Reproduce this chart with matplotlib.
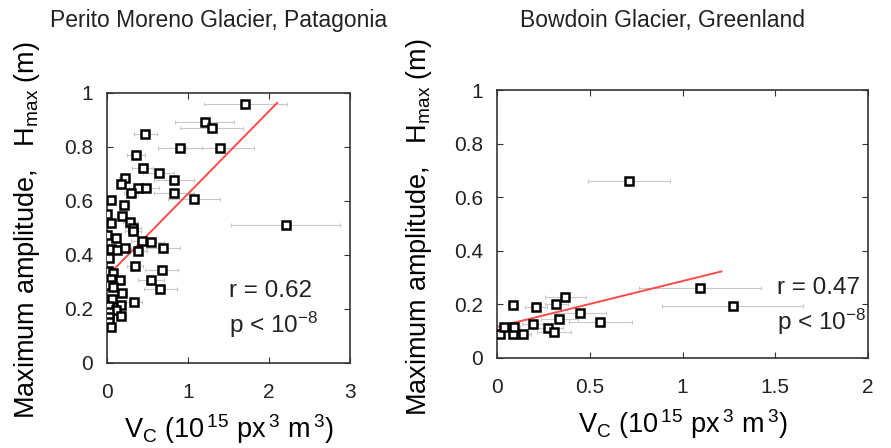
import numpy as np
import matplotlib
matplotlib.use('Agg')
import matplotlib.pyplot as plt

plt.rcParams['font.family'] = ['Liberation Sans', 'DejaVu Sans']
plt.rcParams['mathtext.fontset'] = 'custom'
plt.rcParams['mathtext.rm'] = 'Liberation Sans'
plt.rcParams['mathtext.default'] = 'regular'

# Perito Moreno (x, y, horizontal error)
pm_x = [1.705, 1.205, 1.290, 0.475, 0.897, 1.400, 0.363, 0.444, 0.641, 0.218,
        0.830, 0.174, 0.378, 0.487, 0.297, 0.830, 1.070, 0.054, 0.215, 0.005,
        0.190, 0.054, 0.290, 0.320, 0.325, 2.205, 0.005, 0.110, 0.433, 0.545,
        0.690, 0.050, 0.123, 0.222, 0.380, 0.025, 0.342, 0.675, 0.010, 0.080,
        0.545, 0.660, 0.050, 0.160, 0.020, 0.080, 0.190, 0.060, 0.334, 0.168,
        0.020, 0.110, 0.020, 0.020, 0.168, 0.025, 0.052]
pm_y = [0.960, 0.890, 0.869, 0.847, 0.795, 0.794, 0.769, 0.720, 0.702, 0.686,
        0.678, 0.664, 0.646, 0.646, 0.628, 0.628, 0.606, 0.603, 0.584, 0.550,
        0.544, 0.517, 0.523, 0.500, 0.490, 0.511, 0.475, 0.461, 0.452, 0.448,
        0.425, 0.420, 0.419, 0.427, 0.415, 0.387, 0.358, 0.344, 0.340, 0.332,
        0.305, 0.275, 0.309, 0.305, 0.288, 0.282, 0.259, 0.238, 0.224, 0.214,
        0.210, 0.197, 0.188, 0.170, 0.172, 0.150, 0.132]
pm_err = [0.51, 0.36, 0.39, 0.14, 0.27, 0.42, 0.11, 0.13, 0.19, 0.07,
          0.25, 0.05, 0.11, 0.15, 0.09, 0.25, 0.32, 0.02, 0.06, 0.01,
          0.06, 0.02, 0.09, 0.10, 0.10, 0.67, 0.01, 0.03, 0.13, 0.16,
          0.21, 0.02, 0.04, 0.07, 0.11, 0.01, 0.10, 0.20, 0.01, 0.02,
          0.16, 0.20, 0.02, 0.05, 0.01, 0.02, 0.06, 0.02, 0.10, 0.05,
          0.01, 0.03, 0.01, 0.01, 0.05, 0.01, 0.02]
pm_fit = (0.306, 0.320)   # slope, intercept
pm_fit_range = (0.01, 2.10)

# Bowdoin
bw_x = [0.712, 1.093, 1.272, 0.083, 0.208, 0.320, 0.368, 0.446, 0.557, 0.334,
        0.194, 0.275, 0.306, 0.014, 0.086, 0.140, 0.036, 0.092]
bw_y = [0.659, 0.260, 0.193, 0.199, 0.190, 0.200, 0.227, 0.168, 0.133, 0.147,
        0.125, 0.110, 0.098, 0.088, 0.089, 0.091, 0.116, 0.114]
bw_err = [0.22, 0.33, 0.38, 0.02, 0.06, 0.06, 0.11, 0.14, 0.17, 0.10,
          0.06, 0.08, 0.09, 0.01, 0.03, 0.04, 0.01, 0.03]
bw_fit = (0.171, 0.116)
bw_fit_range = (0.01, 1.21)

fig = plt.figure(figsize=(8.91, 4.48), dpi=100)
ax1 = fig.add_axes([0.120, 0.190, 0.273, 0.603])
ax2 = fig.add_axes([0.558, 0.201, 0.416, 0.598])

def panel(ax, x, y, err, fit, fr, xlim, xticks, xticklabels, rtxt, txtpos, ylab_x):
    ax.errorbar(x, y, xerr=err, fmt='none', ecolor='#c8c8c8', elinewidth=0.8,
                capsize=1.5, capthick=0.8, zorder=1)
    xf = np.array(fr)
    ax.plot(xf, fit[0] * xf + fit[1], color='#ff4a4a', lw=1.4, zorder=2)
    ax.plot(x, y, 's', ms=5.5, mfc='white', mec='black', mew=1.8, zorder=3)
    ax.set_xlim(xlim)
    ax.set_ylim(0, 1)
    ax.set_xticks(xticks)
    ax.set_xticklabels(xticklabels)
    ax.set_yticks([0, 0.2, 0.4, 0.6, 0.8, 1])
    ax.set_yticklabels(['0', '0.2', '0.4', '0.6', '0.8', '1'])
    ax.tick_params(direction='in', top=True, right=True, length=4, width=0.8,
                   labelsize=15, colors='#333333', labelcolor='#222222')
    ax.tick_params(axis='x', pad=14.5)
    ax.tick_params(axis='y', pad=10)
    for s in ax.spines.values():
        s.set_linewidth(1.2)
        s.set_color('#333333')
    ax.set_ylabel(r'Maximum amplitude,   H$_{max}$ (m)', fontsize=19.5)
    ax.yaxis.set_label_coords(ylab_x, 0.49)
    ax.set_xlabel(r'V$_C$ (10$^{\,15}$ px$^{\,3}$ m$^{\,3}$)', fontsize=19.5, labelpad=7)
    ax.text(txtpos[0], txtpos[1], rtxt, transform=ax.transAxes, fontsize=17.5,
            ha='left', va='center', color='#222222')
    ax.text(txtpos[0], txtpos[1] - 0.125, r'p < 10$^{-8}$', transform=ax.transAxes,
            fontsize=17.5, ha='left', va='center', color='#222222')

panel(ax1, pm_x, pm_y, pm_err, pm_fit, pm_fit_range, (0, 3), [0, 1, 2, 3],
      ['0', '1', '2', '3'], 'r = 0.62', (0.50, 0.265), -0.266)
panel(ax2, bw_x, bw_y, bw_err, bw_fit, bw_fit_range, (0, 2), [0, 0.5, 1, 1.5, 2],
      ['0', '0.5', '1', '1.5', '2'], 'r = 0.47', (0.755, 0.26), -0.17)

fig.text(219 / 891, 1 - 21 / 448, 'Perito Moreno Glacier, Patagonia', fontsize=16.5,
         ha='center', va='center', color='#222222')
fig.text(663 / 891, 1 - 21 / 448, 'Bowdoin Glacier, Greenland', fontsize=16.5,
         ha='center', va='center', color='#222222')

fig.savefig('out.png', dpi=100)
